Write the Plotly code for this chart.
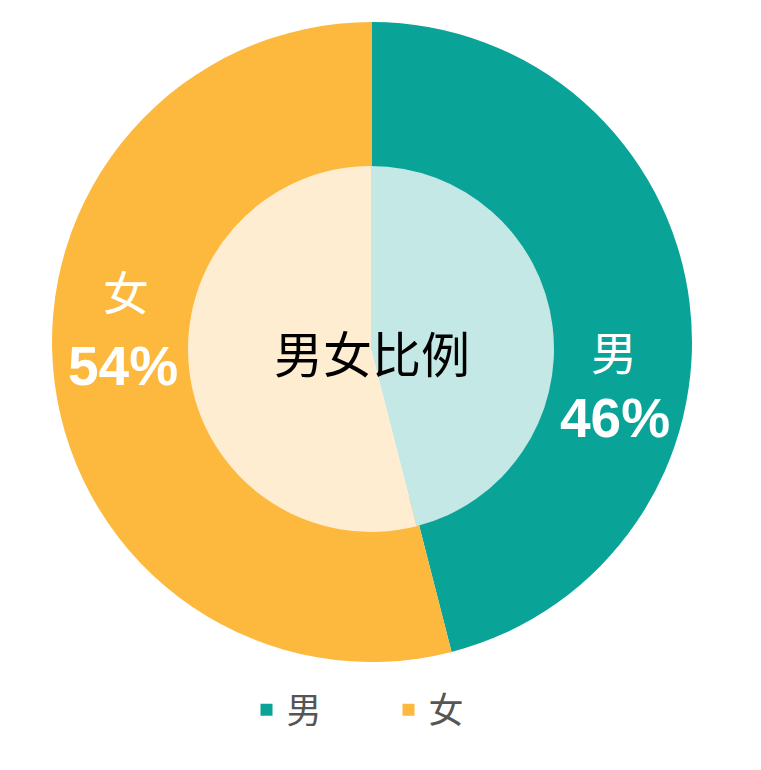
import plotly.graph_objects as go

# 数据
labels = ["男", "女"]
shares = [46, 54]
ring_colors = ["#0AA398", "#FDB93E"]
inner_colors = ["#C3E8E5", "#FEEDD0"]
center_title = "男女比例"

W, H = 761, 770
OFF = 8  # 页面 body 边距


def dom(cx, cy, r):
    cx, cy = cx - OFF, cy - OFF
    return dict(x=[(cx - r) / W, (cx + r) / W],
                y=[1 - (cy + r) / H, 1 - (cy - r) / H])


def px(x, y):
    return (x - OFF) / W, 1 - (y - OFF) / H


fig = go.Figure()

# 外环
fig.add_trace(go.Pie(
    labels=labels, values=shares, sort=False, direction="clockwise",
    rotation=0, domain=dom(372, 342, 320), hole=0.5,
    marker=dict(colors=ring_colors, line=dict(width=0)),
    textinfo="none", hoverinfo="label+percent",
))

# 内圈（浅色），画在外环之上
fig.add_trace(go.Pie(
    labels=labels, values=shares, sort=False, direction="clockwise",
    rotation=0, domain=dom(371, 349, 183), showlegend=False,
    marker=dict(colors=inner_colors, line=dict(width=0)),
    textinfo="none", hoverinfo="skip",
))

# 标签文字
label_xy = [(614, 350), (126, 290)]
pct_xy = [(615, 418), (123, 366)]
annotations = []
for lab, s, (lx, ly), (qx, qy) in zip(labels, shares, label_xy, pct_xy):
    x, y = px(lx, ly)
    annotations.append(dict(x=x, y=y, xref="paper", yref="paper", text=lab,
                            showarrow=False, xanchor="center", yanchor="middle",
                            font=dict(size=46, color="white",
                                      family="Noto Sans CJK SC")))
    x, y = px(qx, qy)
    annotations.append(dict(x=x, y=y, xref="paper", yref="paper",
                            text=f"<b>{s}%</b>", showarrow=False,
                            xanchor="center", yanchor="middle",
                            font=dict(size=55, color="white",
                                      family="Liberation Sans")))
x, y = px(372, 351)
annotations.append(dict(x=x, y=y, xref="paper", yref="paper", text=center_title,
                        showarrow=False, xanchor="center", yanchor="middle",
                        font=dict(size=49, color="black",
                                  family="Noto Sans CJK SC")))

fig.update_layout(
    width=W, height=H, margin=dict(l=0, r=0, t=0, b=0),
    paper_bgcolor="white", plot_bgcolor="white",
    annotations=annotations,
    legend=dict(orientation="h", x=0.5, xanchor="center",
                y=1 - (710 - OFF) / H, yanchor="middle", entrywidth=97,
                font=dict(size=35, color="#555555", family="Noto Sans CJK SC")),
)

fig.write_html("out.html")
